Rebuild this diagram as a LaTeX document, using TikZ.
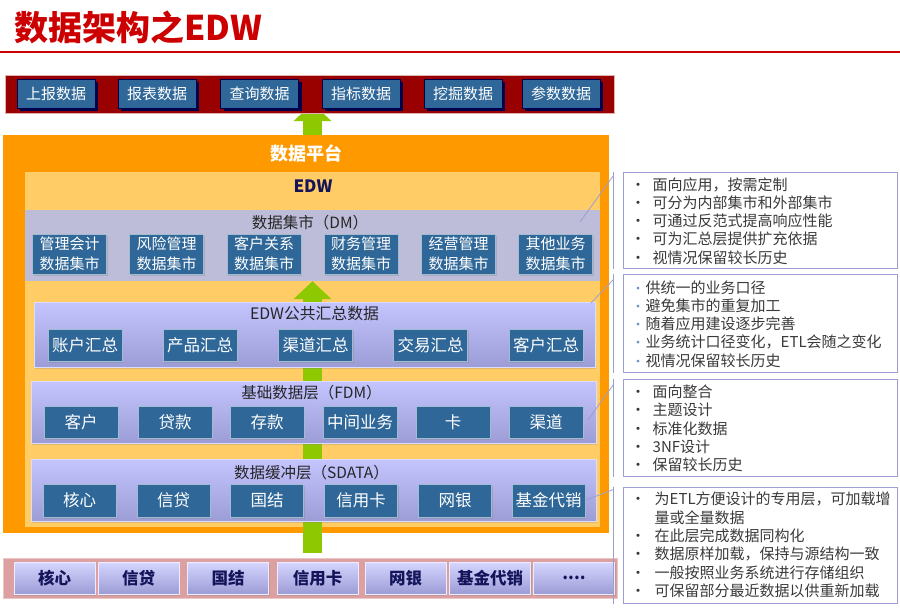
\documentclass[tikz,border=0pt]{standalone}
\usepackage{fontspec}
\setmainfont{Noto Sans CJK SC}
\usetikzlibrary{arrows.meta,shadows}
\definecolor{EdwRed}{HTML}{CC0000}
\definecolor{EdwMaroon}{HTML}{990000}
\definecolor{EdwSteel}{HTML}{2F6798}
\definecolor{EdwNavy}{HTML}{00004D}
\definecolor{EdwGreen}{HTML}{8DC800}
\definecolor{EdwOrange}{HTML}{FF9900}
\definecolor{EdwOrangeLight}{HTML}{FFCC66}
\definecolor{EdwMart}{HTML}{BDBDD9}
\definecolor{EdwLilac}{HTML}{C4C4FF}
\definecolor{EdwLilacDark}{HTML}{9C9CD6}
\definecolor{EdwRose}{HTML}{DDA0A0}
\definecolor{EdwInk}{HTML}{14145A}
\definecolor{EdwNote}{HTML}{9D9DCF}
\definecolor{EdwText}{HTML}{3A3A3A}
\definecolor{EdwDot}{HTML}{6F8FC8}
\pgfdeclarelayer{back}
\pgfdeclarelayer{flow}
\pgfsetlayers{back,flow,main}

\begin{document}
\begin{tikzpicture}[x=1pt, y=-1pt,
    appbox/.style={fill=EdwSteel, draw=EdwNavy, text=white, inner sep=0pt,
        minimum width=78pt, minimum height=29pt, font=\fontsize{15}{17}\selectfont,
        drop shadow={fill=EdwNavy, opacity=1, shadow xshift=3pt, shadow yshift=-3pt}},
    band/.style={top color=EdwLilac, bottom color=EdwLilacDark, draw=EdwLilac!60!white,
        drop shadow={opacity=0.25, shadow xshift=1pt, shadow yshift=-2pt}},
    cell/.style={fill=EdwSteel, draw=EdwSteel!45!white, text=white, inner sep=0pt,
        minimum width=74pt, minimum height=32pt, font=\fontsize{16.5}{19.5}\selectfont,
        drop shadow={opacity=0.3, shadow xshift=1pt, shadow yshift=-2pt}},
    bandtitle/.style={text=black!85, inner sep=0pt, font=\fontsize{15.5}{17}\selectfont},
    srccell/.style={top color=EdwLilac!70!white, bottom color=EdwLilacDark, draw=white!70!EdwLilac,
        text=EdwInk, inner sep=0pt, minimum width=81pt, minimum height=32pt,
        font=\bfseries\fontsize{16.5}{18}\selectfont,
        drop shadow={opacity=0.3, shadow xshift=1pt, shadow yshift=-2pt}},
    notebox/.style={draw=EdwNote, fill=white, line width=1pt, minimum width=274pt, inner sep=0pt},
    notetext/.style={anchor=west, text=EdwText, inner sep=0pt, font=\fontsize{15}{18.3}\selectfont},
    calloutline/.style={draw=EdwNote, line width=0.8pt},
    flow/.style={EdwGreen, line width=19pt, -{Triangle[width=37pt, length=18pt]}}]

    \useasboundingbox (0,0) rectangle (900,610);

    % ========== TITLE ==========
    \node[anchor=west, inner sep=0pt, text=EdwRed, font=\bfseries\fontsize{34}{36}\selectfont]
        (title) at (14,27) {数据架构之EDW};
    \draw[EdwRed, line width=2pt] (0,52) -- (900,52);

    % ========== APPLICATIONS ==========
    \node[fill=EdwMaroon, draw=EdwMaroon!30!white, inner sep=0pt,
        minimum width=609pt, minimum height=38pt] (apps) at (309.5,94) {};
    \node[appbox] (report) at (56,93.5) {上报数据};
    \node[appbox] (sheet) at (157,93.5) {报表数据};
    \node[appbox] (query) at (259.5,93.5) {查询数据};
    \node[appbox] (kpi) at (361,93.5) {指标数据};
    \node[appbox] (mining) at (463,93.5) {挖掘数据};
    \node[appbox] (param) at (561,93.5) {参数数据};

    % ========== DATA PLATFORM ==========
    \begin{pgfonlayer}{back}
        \node[fill=EdwOrange, inner sep=0pt, minimum width=606pt, minimum height=398pt]
            (platform) at (306,334) {};
        \node[fill=EdwOrangeLight, inner sep=0pt, minimum width=575pt, minimum height=355pt]
            (edw) at (312.5,349.5) {};
    \end{pgfonlayer}
    \node[text=white, font=\bfseries\fontsize{18}{20}\selectfont] (platformTitle) at (306,153) {数据平台};
    \node[text=EdwInk, font=\bfseries\fontsize{17}{19}\selectfont] (edwTitle) at (313,186) {EDW};

    % Data marts
    \node[fill=EdwMart, inner sep=0pt, minimum width=575pt, minimum height=71pt] (dm) at (312.5,245.5) {};
    \node[bandtitle] (dmTitle) at (310,223) {数据集市（DM）};
    \node[cell, minimum height=40pt, align=center, font=\fontsize{15}{20}\selectfont] (mgmt) at (69.5,254) {管理会计\\数据集市};
    \node[cell, minimum height=40pt, align=center, font=\fontsize{15}{20}\selectfont] (risk) at (166.5,254) {风险管理\\数据集市};
    \node[cell, minimum height=40pt, align=center, font=\fontsize{15}{20}\selectfont] (crm) at (264,254) {客户关系\\数据集市};
    \node[cell, minimum height=40pt, align=center, font=\fontsize{15}{20}\selectfont] (finance) at (361,254) {财务管理\\数据集市};
    \node[cell, minimum height=40pt, align=center, font=\fontsize{15}{20}\selectfont] (ops) at (458.5,254) {经营管理\\数据集市};
    \node[cell, minimum height=40pt, align=center, font=\fontsize{15}{20}\selectfont] (other) at (555.5,254) {其他业务\\数据集市};

    % Common summary
    \node[band, inner sep=0pt, minimum width=561pt, minimum height=65pt] (sum) at (314.5,334.5) {};
    \node[bandtitle, font=\fontsize{15.8}{17}\selectfont] (sumTitle) at (314.5,314) {EDW公共汇总数据};
    \node[cell] (sumAcct) at (85,345) {账户汇总};
    \node[cell] (sumProd) at (200,345) {产品汇总};
    \node[cell] (sumChan) at (315.5,345) {渠道汇总};
    \node[cell] (sumTxn) at (430.5,345) {交易汇总};
    \node[cell] (sumCust) at (546,345) {客户汇总};

    % Foundation layer
    \node[band, inner sep=0pt, minimum width=565pt, minimum height=62pt] (fdm) at (313.5,412) {};
    \node[bandtitle] (fdmTitle) at (311.5,393) {基础数据层（FDM）};
    \node[cell] (fdmCust) at (81,422) {客户};
    \node[cell] (fdmLoan) at (175,422) {贷款};
    \node[cell] (fdmDep) at (267,422) {存款};
    \node[cell] (fdmMid) at (360,422) {中间业务};
    \node[cell] (fdmCard) at (453,422) {卡};
    \node[cell] (fdmChan) at (546,422) {渠道};

    % Buffer layer
    \node[band, inner sep=0pt, minimum width=565pt, minimum height=62pt] (sdata) at (313.5,490) {};
    \node[bandtitle] (sdataTitle) at (311.5,473) {数据缓冲层（SDATA）};
    \node[cell, minimum width=73pt, minimum height=33pt] (bufCore) at (79.5,500.5) {核心};
    \node[cell, minimum width=73pt, minimum height=33pt] (bufCredit) at (173.5,500.5) {信贷};
    \node[cell, minimum width=73pt, minimum height=33pt] (bufIntl) at (267,500.5) {国结};
    \node[cell, minimum width=73pt, minimum height=33pt] (bufCard) at (361,500.5) {信用卡};
    \node[cell, minimum width=73pt, minimum height=33pt] (bufWeb) at (455,500.5) {网银};
    \node[cell, minimum width=73pt, minimum height=33pt] (bufFund) at (548.5,500.5) {基金代销};

    % ========== SOURCE SYSTEMS ==========
    \node[fill=EdwRose, draw=EdwRose!60!white, inner sep=0pt,
        minimum width=614pt, minimum height=40pt] (srcBar) at (310,578) {};
    \node[srccell] (srcCore) at (54.5,578) {核心};
    \node[srccell] (srcCredit) at (138.5,578) {信贷};
    \node[srccell] (srcIntl) at (228,578) {国结};
    \node[srccell] (srcCard) at (317.5,578) {信用卡};
    \node[srccell] (srcWeb) at (405.5,578) {网银};
    \node[srccell] (srcFund) at (490,578) {基金代销};
    \node[srccell] (srcMore) at (574,578) {....};

    % Data flow
    \coordinate (appsIn) at ([yshift=10pt]apps.south);
    \coordinate (srcOut) at ([yshift=5pt]srcBar.north);
    \begin{pgfonlayer}{flow}
        \draw[flow] (dm.south |- srcOut) -- (dm.south);
        \draw[flow] (dm.south |- platform.north) -- (dm.south |- appsIn);
    \end{pgfonlayer}

    % ========== NOTES ==========
    \node[notebox, minimum height=96pt] (martNote) at (760,220) {};
    \node[notetext] (martText) at ([xshift=8pt,yshift=-3pt]martNote.west) {\begin{tabular}{@{}l@{\hspace{7pt}}l@{}}
        • & 面向应用，按需定制\\
        • & 可分为内部集市和外部集市\\
        • & 可通过反范式提高响应性能\\
        • & 可为汇总层提供扩充依据\\
        • & 视情况保留较长历史
    \end{tabular}};

    \node[notebox, minimum height=98pt] (sumNote) at (760,323) {};
    \node[notetext] (sumText) at ([xshift=9pt,yshift=-3pt]sumNote.west) {\begin{tabular}{@{}l@{\hspace{1pt}}l@{}}
        {\color{EdwDot}\fontsize{13}{13}\selectfont •} & 供统一的业务口径\\
        {\color{EdwDot}\fontsize{13}{13}\selectfont •} & 避免集市的重复加工\\
        {\color{EdwDot}\fontsize{13}{13}\selectfont •} & 随着应用建设逐步完善\\
        {\color{EdwDot}\fontsize{13}{13}\selectfont •} & 业务统计口径变化，ETL会随之变化\\
        {\color{EdwDot}\fontsize{13}{13}\selectfont •} & 视情况保留较长历史
    \end{tabular}};

    \node[notebox, minimum height=97pt] (fdmNote) at (760,427.5) {};
    \node[notetext] (fdmText) at ([xshift=8pt,yshift=-3pt]fdmNote.west) {\begin{tabular}{@{}l@{\hspace{7pt}}l@{}}
        • & 面向整合\\
        • & 主题设计\\
        • & 标准化数据\\
        • & 3NF设计\\
        • & 保留较长历史
    \end{tabular}};

    \node[notebox, minimum height=116pt] (sdataNote) at (760,545) {};
    \node[notetext] (sdataText) at ([xshift=8pt,yshift=-2pt]sdataNote.west) {\begin{tabular}{@{}l@{\hspace{9pt}}l@{}}
        • & 为ETL方便设计的专用层，可加载增\\
          & 量或全量数据\\
        • & 在此层完成数据同构化\\
        • & 数据原样加载，保持与源结构一致\\
        • & 一般按照业务系统进行存储组织\\
        • & 可保留部分最近数据以供重新加载
    \end{tabular}};

    % Callouts
    \coordinate (martHook) at (580,222);
    \coordinate (sumHook) at (591,303);
    \coordinate (fdmHook) at (588,420);
    \coordinate (sdataHook) at (586,500);
    \draw[calloutline] ([xshift=-9pt]martNote.north west) -- ([xshift=-9pt]martNote.south west);
    \draw[calloutline] ([xshift=-9pt,yshift=-4pt]martNote.north west) -- (martHook);
    \draw[calloutline] ([xshift=-9pt]sumNote.north west) -- ([xshift=-9pt]sumNote.south west);
    \draw[calloutline] ([xshift=-9pt,yshift=-6pt]sumNote.north west) -- (sumHook);
    \draw[calloutline] ([xshift=-9pt]fdmNote.north west) -- ([xshift=-9pt]fdmNote.south west);
    \draw[calloutline] ([xshift=-9pt,yshift=-6pt]fdmNote.north west) -- (fdmHook);
    \draw[calloutline] ([xshift=-9pt]sdataNote.north west) -- ([xshift=-9pt]sdataNote.south west);
    \draw[calloutline] ([xshift=-9pt,yshift=-3pt]sdataNote.north west) -- (sdataHook);

\end{tikzpicture}
\end{document}
